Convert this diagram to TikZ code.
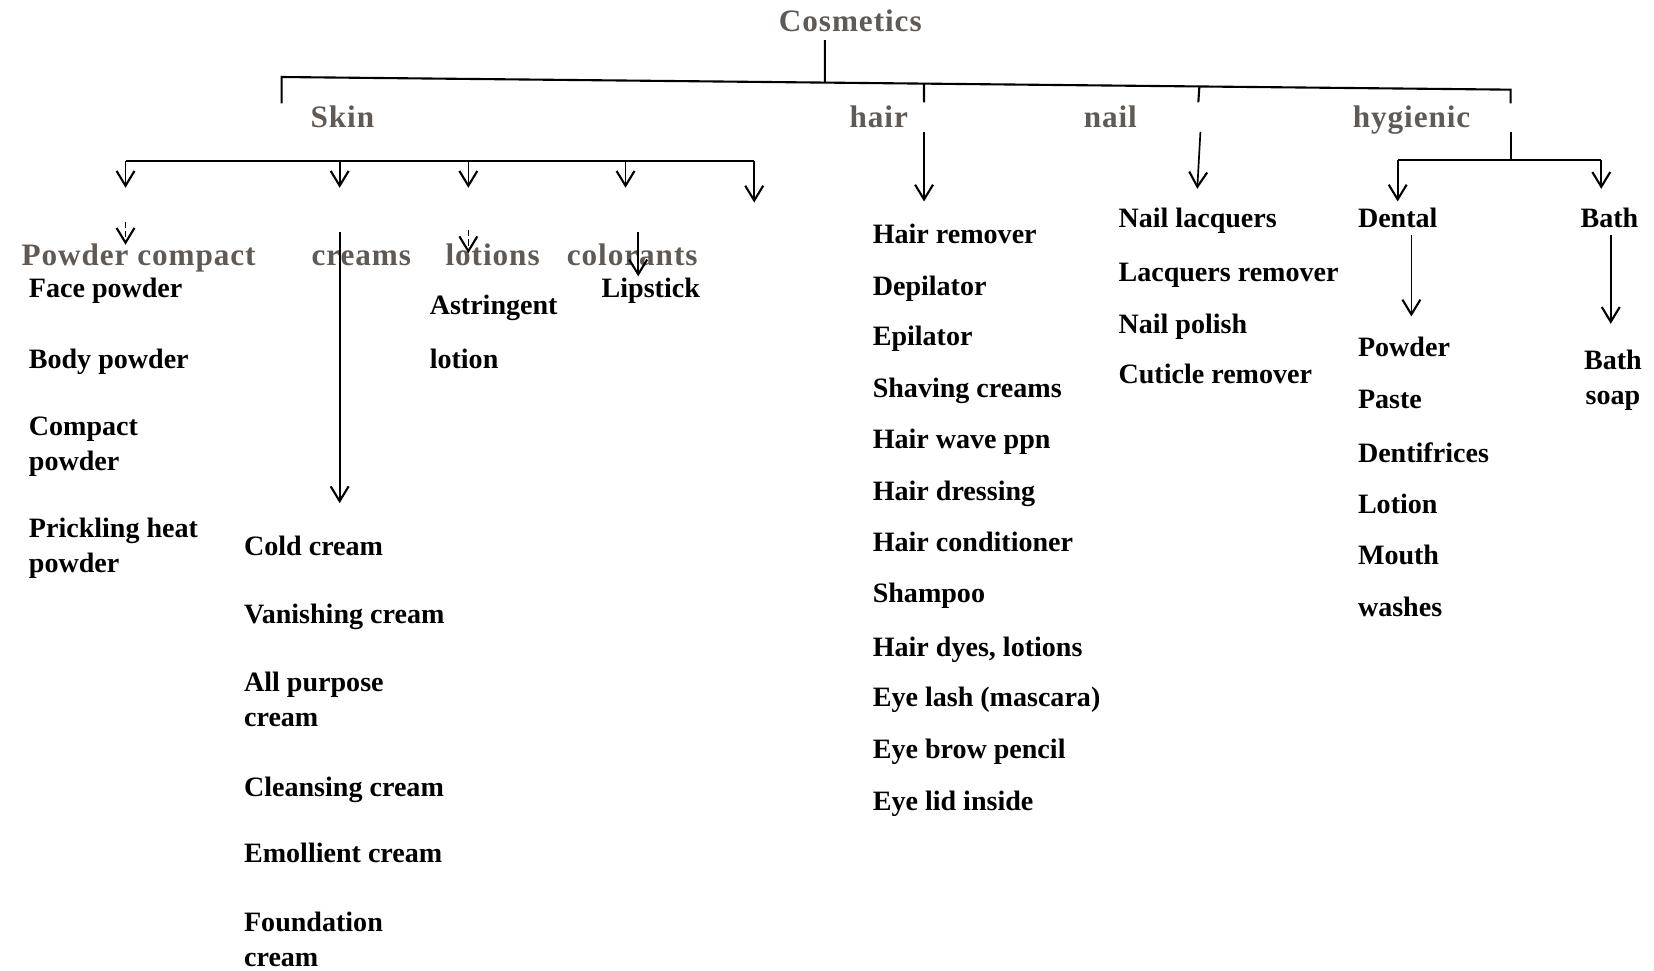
\documentclass[tikz,border=0pt]{standalone}
\usepackage{fontspec}
\setmainfont{Liberation Serif}
\newfontfamily\catfont[LetterSpace=3]{Liberation Serif}
\usetikzlibrary{arrows.meta,calc}
\definecolor{catgray}{RGB}{95,90,85}
\begin{document}
\begin{tikzpicture}[x=0.5pt,y=-0.5pt,
  item/.style={anchor=base west,inner sep=0pt,font=\fontsize{13.3}{16.5}\selectfont\bfseries,text=black},
  multi/.style={item,align=left},
  cat/.style={anchor=base west,inner sep=0pt,font=\fontsize{14.8}{17}\catfont\bfseries,text=catgray},
  conn/.style={line width=1pt,draw=black},
  arr/.style={line width=0.8pt,draw=black,-{Straight Barb[length=7pt,width=8.5pt,line width=1pt]}},
]
\useasboundingbox (0,0) rectangle (1568,920);

% category labels
\node[cat] (cos) at (738,30) {Cosmetics};
\node[cat] (skin) at (294,121) {Skin};
\node[cat] (hair) at (805,121) {hair};
\node[cat] (nail) at (1027,121) {nail};
\node[cat] (hyg) at (1282,121) {hygienic};
\node[cat] (pc) at (20,252) {Powder compact};
\node[cat] (cr) at (295,252) {creams};
\node[cat] (lo) at (422,252) {lotions};
\node[cat] (co) at (537,252) {colorants};

% powder compact items (multi-line nodes: base = last line)
\node[item] (face) at (27,282) {Face powder};
\node[item] (body) at (27,349) {Body powder};
\node[multi] (compact) at (27,446) {Compact\\powder};
\node[multi] (prick) at (27,543) {Prickling heat\\powder};

% creams items
\node[item] (cold) at (231,527) {Cold cream};
\node[item] (van) at (231,591) {Vanishing cream};
\node[multi] (allp) at (231,689) {All purpose\\cream};
\node[item] (cleans) at (231,755) {Cleansing cream};
\node[item] (emol) at (231,818) {Emollient cream};
\node[multi] (found) at (231,916) {Foundation\\cream};

% lotions, colorants
\node[item] (astr) at (407,298) {Astringent};
\node[item] (lotion) at (407,349) {lotion};
\node[item] (lip) at (570,282) {Lipstick};

% hair items
\node[item] (h1) at (827,231) {Hair remover};
\node[item] (h2) at (827,280) {Depilator};
\node[item] (h3) at (827,328) {Epilator};
\node[item] (h4) at (827,377) {Shaving creams};
\node[item] (h5) at (827,425) {Hair wave ppn};
\node[item] (h6) at (827,474) {Hair dressing};
\node[item] (h7) at (827,523) {Hair conditioner};
\node[item] (h8) at (827,571) {Shampoo};
\node[item] (h9) at (827,622) {Hair dyes, lotions};
\node[item] (h10) at (827,670) {Eye lash (mascara)};
\node[item] (h11) at (827,719) {Eye brow pencil};
\node[item] (h12) at (827,768) {Eye lid inside};

% nail items
\node[item] (n1) at (1060,216) {Nail lacquers};
\node[item] (n2) at (1060,267) {Lacquers remover};
\node[item] (n3) at (1060,316) {Nail polish};
\node[item] (n4) at (1060,364) {Cuticle remover};

% hygienic
\node[item] (dental) at (1287,216) {Dental};
\node[item] (bath) at (1498,216) {Bath};
\node[item] (d1) at (1287,338) {Powder};
\node[item] (d2) at (1287,387) {Paste};
\node[item] (d3) at (1287,438) {Dentifrices};
\node[item] (d4) at (1287,487) {Lotion};
\node[item] (d5) at (1287,535) {Mouth};
\node[item] (d6) at (1287,584) {washes};
\node[item,align=center,anchor=base] (soap) at (1529,383) {Bath\\soap};

% top bracket
\coordinate (cosB) at (782,38);
\coordinate (TL) at (267,73);
\coordinate (TR) at (1432,85);
\coordinate (skinE) at (267,98);
\coordinate (hygE) at (1432,98);
\coordinate (hairE) at (876,97);
\coordinate (nailE) at (1136,97);
\draw[conn] (cosB) -- ($(TL)!0.442!(TR)$);
\draw[conn] (skinE) -- (TL) -- (TR) -- (hygE);
\draw[conn] ($(TL)!0.5227!(TR)$) -- (hairE);
\draw[conn] ($(TL)!0.7468!(TR)$) -- (nailE);

% skin bracket
\coordinate (sL) at (119,153);
\coordinate (sR) at (715,153);
\draw[conn] (sL) -- (sR);
\coordinate (s1) at (119,178);
\coordinate (s2) at (322,178);
\coordinate (s3) at (444,178);
\coordinate (s4) at (593,178);
\coordinate (s5) at (715,192);
\draw[arr] (sL) -- (s1);
\draw[arr] (322,153) -- (s2);
\draw[arr] (444,153) -- (s3);
\draw[arr] (593,153) -- (s4);
\draw[arr] (sR) -- (s5);

% second-level arrows
\coordinate (pA) at (119,210);
\coordinate (pB) at (119,232);
\draw[arr,dash pattern=on 3pt off 1.5pt] (pA) -- (pB);
\coordinate (lA) at (444,218);
\coordinate (lB) at (444,240);
\draw[arr,dash pattern=on 3pt off 1.5pt] (lA) -- (lB);
\coordinate (cA) at (605,220);
\coordinate (cB) at (605,262);
\draw[arr] (cA) -- (cB);
\coordinate (crA) at (322,220);
\coordinate (crB) at (322,477);
\draw[arr] (crA) -- (crB);

% hair, nail
\coordinate (hA) at (876,125);
\coordinate (hB) at (876,191);
\draw[arr] (hA) -- (hB);
\coordinate (nA) at (1138,125);
\coordinate (nB) at (1135,179);
\draw[arr] (nA) -- (nB);

% hygienic bracket
\coordinate (gA) at (1432,125);
\coordinate (gJ) at (1432,152);
\coordinate (gL) at (1325,152);
\coordinate (gR) at (1518,152);
\draw[conn] (gA) -- (gJ);
\draw[conn] (gL) -- (gR);
\coordinate (gLE) at (1325,191);
\coordinate (gRE) at (1518,179);
\draw[arr] (gL) -- (gLE);
\draw[arr] (gR) -- (gRE);

% dental, bath
\coordinate (dA) at (1338,223);
\coordinate (dB) at (1338,300);
\draw[arr] (dA) -- (dB);
\coordinate (bA) at (1527,223);
\coordinate (bB) at (1527,307);
\draw[arr] (bA) -- (bB);
\end{tikzpicture}
\end{document}
